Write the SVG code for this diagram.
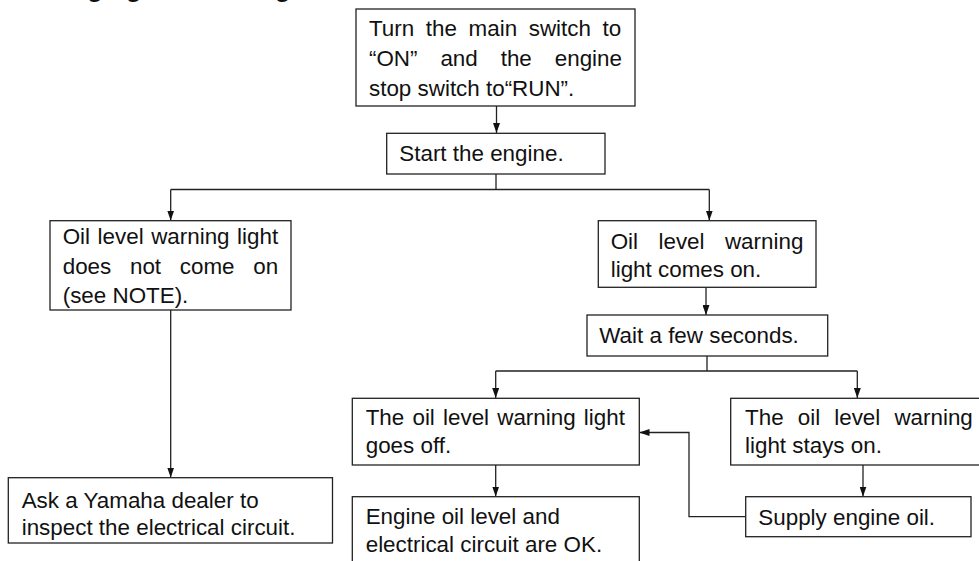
<svg xmlns="http://www.w3.org/2000/svg" width="979" height="561" viewBox="0 0 979 561">
<style>
.box{fill:#fff;stroke:#222;stroke-width:1.3}
.t{font-family:"Liberation Sans",Arial,Helvetica,sans-serif;font-size:22.4px;fill:#111}
.ttl{font-family:"Liberation Sans",Arial,Helvetica,sans-serif;font-size:26.8px;font-weight:bold;fill:#111}
.c{fill:none;stroke:#222;stroke-width:1.3}
</style>
<defs>
<marker id="ah" markerUnits="userSpaceOnUse" markerWidth="10" markerHeight="7" refX="10" refY="3.5" orient="auto">
<path d="M0,0 L10,3.5 L0,7 z" fill="#111"/>
</marker>
</defs>
<rect width="979" height="561" fill="#fff"/>
<text class="ttl" x="-3" y="-4">Warning light checking method</text>

<g id="connectors">
<path class="c" d="M496.5,106 V133" marker-end="url(#ah)"/>
<path class="c" d="M496,174 V189.5 M170.7,189.5 H709.3"/>
<path class="c" d="M170.7,189.5 V220.5" marker-end="url(#ah)"/>
<path class="c" d="M709.3,189.5 V220.5" marker-end="url(#ah)"/>
<path class="c" d="M170.7,310 V477.5" marker-end="url(#ah)"/>
<path class="c" d="M706,287.3 V315" marker-end="url(#ah)"/>
<path class="c" d="M707,356 V371 M495.7,371 H857.3"/>
<path class="c" d="M495.7,371 V398" marker-end="url(#ah)"/>
<path class="c" d="M857.3,371 V398" marker-end="url(#ah)"/>
<path class="c" d="M495.7,465 V496.5" marker-end="url(#ah)"/>
<path class="c" d="M863,465 V496.5" marker-end="url(#ah)"/>
<path class="c" d="M745.7,516.7 H689 V432.5 H639.5" marker-end="url(#ah)"/>
</g>

<g id="n-switch">
<rect class="box" x="356" y="9" width="279" height="97"/>
<text class="t"><tspan x="369" y="36" word-spacing="5.4">Turn the main switch to</tspan><tspan x="369" y="66" word-spacing="16.7">“ON” and the engine</tspan><tspan x="369" y="96">stop switch to“RUN”.</tspan></text>
</g>

<g id="n-start">
<rect class="box" x="386.7" y="133.3" width="218.3" height="40.7"/>
<text class="t" x="399.3" y="161">Start the engine.</text>
</g>

<g id="n-nolight">
<rect class="box" x="50" y="220.7" width="241" height="89.3"/>
<text class="t"><tspan x="62.7" y="244" word-spacing="1.3">Oil level warning light</tspan><tspan x="62.7" y="274" word-spacing="12.5">does not come on</tspan><tspan x="62.7" y="303">(see NOTE).</tspan></text>
</g>

<g id="n-lighton">
<rect class="box" x="598.3" y="220.7" width="217.7" height="66.6"/>
<text class="t"><tspan x="610.7" y="248.5" word-spacing="14.2">Oil level warning</tspan><tspan x="610.7" y="277">light comes on.</tspan></text>
</g>

<g id="n-wait">
<rect class="box" x="587" y="315" width="240.7" height="41"/>
<text class="t" x="599.3" y="343">Wait a few seconds.</text>
</g>

<g id="n-goesoff">
<rect class="box" x="352.3" y="398.3" width="287" height="66.7"/>
<text class="t"><tspan x="365.7" y="425" word-spacing="1.95">The oil level warning light</tspan><tspan x="365.7" y="453">goes off.</tspan></text>
</g>

<g id="n-stayson">
<rect class="box" x="730.7" y="398.3" width="260" height="66.7"/>
<text class="t"><tspan x="745" y="425" word-spacing="7.9">The oil level warning</tspan><tspan x="745" y="453">light stays on.</tspan></text>
</g>

<g id="n-dealer">
<rect class="box" x="8.3" y="477.7" width="324.2" height="65.3"/>
<text class="t"><tspan x="21.7" y="508">Ask a Yamaha dealer to</tspan><tspan x="21.7" y="535">inspect the electrical circuit.</tspan></text>
</g>

<g id="n-ok">
<rect class="box" x="352.3" y="496.7" width="287" height="80"/>
<text class="t"><tspan x="365.7" y="524">Engine oil level and</tspan><tspan x="365.7" y="551.5">electrical circuit are OK.</tspan></text>
</g>

<g id="n-supply">
<rect class="box" x="745.7" y="496.7" width="225.3" height="40"/>
<text class="t" x="758.3" y="525">Supply engine oil.</text>
</g>
</svg>
